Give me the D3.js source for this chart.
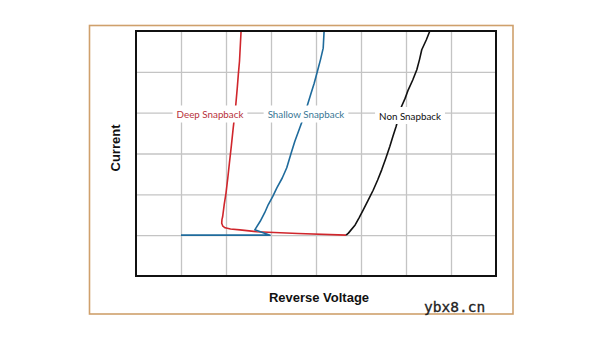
<!DOCTYPE html>
<html>
<head>
<meta charset="utf-8">
<script src="https://cdn.jsdelivr.net/npm/d3@7"></script>
<style>
  html, body { margin: 0; padding: 0; background: #fff; }
  svg { display: block; }
</style>
</head>
<body>
<svg id="chart" width="603" height="339"></svg>
<script>
// Grid divisions (unitless axes)
const xTicks = [1, 2, 3, 4, 5, 6, 7];
const yTicks = [1, 2, 3, 4, 5];

// I-V traces: reverse voltage (x) vs current (y), arbitrary units
const deepX = [4.67, 3.60, 2.68, 2.31, 2.10, 1.98, 1.93, 1.905, 1.91, 1.925, 1.96, 2.00, 2.04, 2.075, 2.12, 2.16, 2.21, 2.25, 2.275, 2.30, 2.335];
const deepY = [1.00, 1.04, 1.085, 1.13, 1.15, 1.18, 1.22, 1.29, 1.38, 1.45, 1.75, 2.03, 2.40, 2.76, 3.20, 3.62, 4.10, 4.60, 4.95, 5.26, 6.00];

const shallowX = [1.00, 2.98, 2.64, 2.76, 2.86, 2.94, 3.04, 3.13, 3.25, 3.35, 3.44, 3.53, 3.63, 3.72, 3.80, 3.88, 3.96, 4.03, 4.10, 4.16, 4.18];
const shallowY = [1.00, 1.00, 1.13, 1.34, 1.55, 1.75, 1.95, 2.16, 2.40, 2.65, 2.98, 3.30, 3.60, 3.87, 4.15, 4.44, 4.72, 5.01, 5.30, 5.58, 6.00];

const nonX = [4.67, 4.72, 4.87, 4.96, 5.05, 5.16, 5.27, 5.37, 5.46, 5.55, 5.64, 5.71, 5.78, 5.84, 5.90, 5.98, 6.05, 6.15, 6.24, 6.30, 6.35, 6.45, 6.53];
const nonY = [1.00, 1.05, 1.25, 1.43, 1.62, 1.86, 2.10, 2.35, 2.60, 2.88, 3.17, 3.42, 3.66, 3.90, 4.15, 4.35, 4.56, 4.80, 5.05, 5.30, 5.54, 5.78, 6.00];

const seriesNames = ["Deep Snapback", "Shallow Snapback", "Non Snapback"];
const seriesColors = ["#d0262c", "#1f6b9c", "#111111"];
const labelColors = ["#b8323a", "#3a7896", "#111111"];
const labelAnchors = [[210, 114], [306, 114], [410, 115.5]];

const svg = d3.select("#chart");

// outer frame
svg.append("rect")
  .attr("x", 89.5).attr("y", 25.5)
  .attr("width", 423.5).attr("height", 288.5)
  .attr("fill", "none")
  .attr("stroke", "#cfa06c")
  .attr("stroke-width", 1.6);

const plot = { left: 136, top: 31, right: 496, bottom: 276 };
const x = d3.scaleLinear().domain([0, 8]).range([plot.left, plot.right]);
const y = d3.scaleLinear().domain([0, 6]).range([plot.bottom, plot.top]);

// gridlines
const gx = svg.append("g")
  .attr("transform", `translate(0,${plot.bottom})`)
  .call(d3.axisBottom(x).tickValues(xTicks).tickSize(-(plot.bottom - plot.top)).tickFormat(""));
const gy = svg.append("g")
  .attr("transform", `translate(${plot.left},0)`)
  .call(d3.axisLeft(y).tickValues(yTicks).tickSize(-(plot.right - plot.left)).tickFormat(""));
[gx, gy].forEach(g => {
  g.select(".domain").remove();
  g.selectAll(".tick line").attr("stroke", "#c4c4c4").attr("stroke-width", 1.3);
});

// traces
const line = d3.line().x(d => x(d[0])).y(d => y(d[1]));
const traces = [
  d3.zip(deepX, deepY),
  d3.zip(shallowX, shallowY),
  d3.zip(nonX, nonY)
];
svg.append("g").selectAll("path")
  .data(traces)
  .join("path")
  .attr("d", line)
  .attr("fill", "none")
  .attr("stroke", (d, i) => seriesColors[i])
  .attr("stroke-width", 1.6)
  .attr("stroke-linejoin", "round");

// series labels on white boxes
const lg = svg.append("g");
seriesNames.forEach((name, i) => {
  const g = lg.append("g");
  const t = g.append("text")
    .attr("x", labelAnchors[i][0])
    .attr("y", labelAnchors[i][1])
    .attr("text-anchor", "middle")
    .attr("dominant-baseline", "central")
    .attr("font-family", "Lato, 'Open Sans', sans-serif")
    .attr("font-size", 9.8)
    .attr("fill", labelColors[i])
    .text(name);
  const bb = t.node().getBBox();
  g.insert("rect", "text")
    .attr("x", bb.x - 4).attr("y", labelAnchors[i][1] - 8.5)
    .attr("width", bb.width + 8).attr("height", 17)
    .attr("fill", "#fff");
});

// plot border
svg.append("rect")
  .attr("x", plot.left).attr("y", plot.top)
  .attr("width", plot.right - plot.left).attr("height", plot.bottom - plot.top)
  .attr("fill", "none")
  .attr("stroke", "#111")
  .attr("stroke-width", 2);

// axis titles
svg.append("text")
  .attr("x", (plot.left + plot.right) / 2 + 3)
  .attr("y", 301.5)
  .attr("text-anchor", "middle")
  .attr("font-family", "'Liberation Sans', Arial, sans-serif")
  .attr("font-weight", "bold")
  .attr("font-size", 13)
  .attr("fill", "#111")
  .text("Reverse Voltage");

svg.append("text")
  .attr("transform", "translate(119.5,148) rotate(-90)")
  .attr("text-anchor", "middle")
  .attr("font-family", "'Liberation Sans', Arial, sans-serif")
  .attr("font-weight", "bold")
  .attr("font-size", 13)
  .attr("fill", "#111")
  .text("Current");

// site mark
svg.append("text")
  .attr("x", 424)
  .attr("y", 312)
  .attr("font-family", "'DejaVu Sans Mono', 'Liberation Mono', monospace")
  .attr("font-size", 14.5)
  .attr("fill", "#222")
  .attr("stroke", "#222")
  .attr("stroke-width", 0.3)
  .text("ybx8.cn");
</script>
</body>
</html>
